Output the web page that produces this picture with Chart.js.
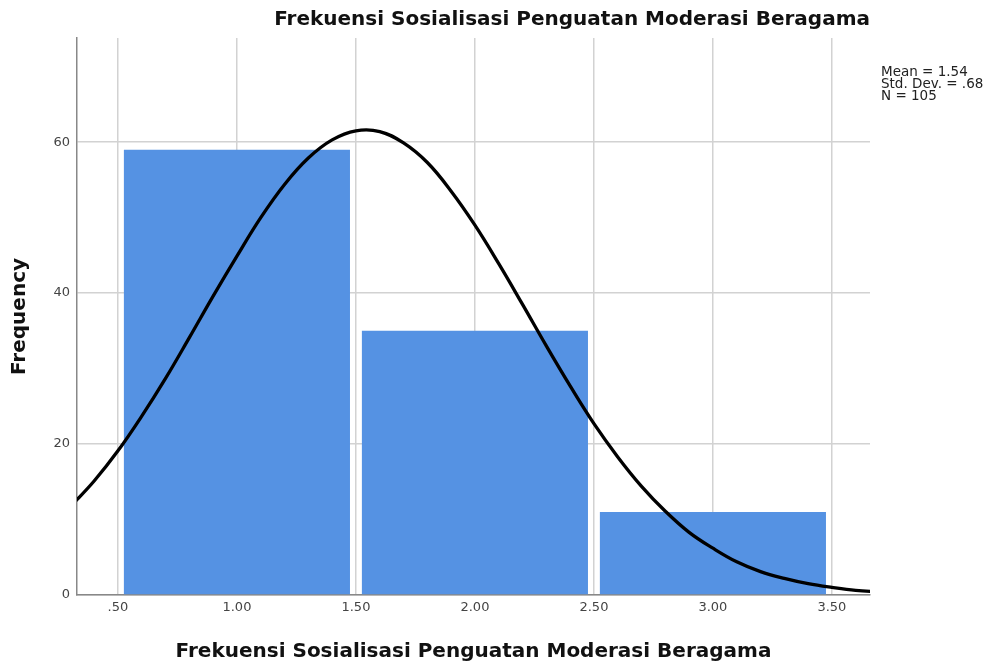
<!DOCTYPE html>
<html>
<head>
<meta charset="utf-8">
<script src="https://cdn.jsdelivr.net/npm/chart.js@4.4.1/dist/chart.umd.min.js"></script>
<style>
  html, body { margin: 0; padding: 0; background: #fff; }
  #wrap { width: 995px; height: 670px; }
</style>
</head>
<body>
<div id="wrap"><canvas id="histChart" width="995" height="670"></canvas></div>
<script>
// histogram bins (bin midpoints) and frequencies
const binMids = [1, 2, 3];
const frequencies = [59, 35, 11];

// normal curve
const curveX = [0.3, 0.4, 0.5, 0.6, 0.7, 0.8, 0.9, 1.0, 1.1, 1.2, 1.3, 1.4, 1.5, 1.6, 1.7, 1.8, 1.9, 2.0,
    2.1, 2.2, 2.3, 2.4, 2.5, 2.6, 2.7, 2.8, 2.9, 3.0, 3.1, 3.2, 3.3, 3.4, 3.5, 3.6, 3.7];
const curveY = [11.7, 15.1, 19.1, 23.7, 28.7, 34.1, 39.6, 44.9, 50.0, 54.4, 57.9, 60.3, 61.5, 61.4, 59.9, 57.3, 53.5, 49.0,
    43.9, 38.5, 33.0, 27.7, 22.7, 18.3, 14.4, 11.1, 8.3, 6.2, 4.4, 3.1, 2.2, 1.5, 1.0, 0.6, 0.4];

const xTicks = [0.5, 1.0, 1.5, 2.0, 2.5, 3.0, 3.5];
const yTicks = [0, 20, 40, 60];
const statsLines = ["Mean = 1.54", "Std. Dev. = .68", "N = 105"];

const titleText = "Frekuensi Sosialisasi Penguatan Moderasi Beragama";
const fontFamily = "'DejaVu Sans', sans-serif";

const statsPlugin = {
    id: "statsBox",
    afterDraw(chart) {
        const ctx = chart.ctx;
        ctx.save();
        ctx.font = "13.5px " + fontFamily;
        ctx.fillStyle = "#222";
        ctx.textBaseline = "middle";
        ctx.textAlign = "left";
        statsLines.forEach((line, i) => {
            ctx.fillText(line, chart.chartArea.right + 11, 72 + i * 12);
        });
        ctx.restore();
    }
};

new Chart(document.getElementById("histChart"), {
    data: {
        datasets: [
            {
                type: "line",
                data: curveX.map((x, i) => ({ x, y: curveY[i] })),
                borderColor: "#000",
                borderWidth: 3.3,
                pointRadius: 0,
                tension: 0.4,
                fill: false,
                order: 0
            },
            {
                type: "bar",
                data: binMids.map((x, i) => ({ x, y: frequencies[i] })),
                backgroundColor: "#5592e3",
                borderWidth: 0,
                // ruler uses the 0.5 tick spacing, bins are 1.0 wide
                barPercentage: 1.9,
                categoryPercentage: 1.0,
                order: 1
            }
        ]
    },
    options: {
        responsive: false,
        animation: false,
        layout: { padding: { left: 0, right: 125, top: 0, bottom: 0 } },
        plugins: {
            legend: { display: false },
            tooltip: { enabled: false },
            title: {
                display: true,
                text: titleText,
                align: "end",
                color: "#111",
                font: { family: fontFamily, size: 20, weight: "bold" },
                padding: { top: 8, bottom: 6 }
            }
        },
        scales: {
            x: {
                type: "linear",
                offset: false,
                min: 0.328,
                max: 3.66,
                afterBuildTicks: (scale) => { scale.ticks = xTicks.map((v) => ({ value: v })); },
                afterFit: (scale) => { scale.height = 75; },
                ticks: {
                    callback: (v) => v.toFixed(2).replace(/^0/, ""),
                    color: "#444",
                    font: { family: fontFamily, size: 13 },
                    padding: 5,
                    maxRotation: 0
                },
                grid: { color: "#d2d2d2", lineWidth: 1.5, drawTicks: false, offset: false },
                border: { color: "#888", width: 1.5 },
                title: {
                    display: true,
                    text: titleText,
                    color: "#111",
                    font: { family: fontFamily, size: 20, weight: "bold" },
                    padding: { top: 4, bottom: 6 }
                }
            },
            y: {
                min: 0,
                max: 73.8,
                afterBuildTicks: (scale) => { scale.ticks = yTicks.map((v) => ({ value: v })); },
                afterFit: (scale) => { scale.width = 77; },
                ticks: {
                    color: "#444",
                    font: { family: fontFamily, size: 13 },
                    padding: 7
                },
                grid: { color: "#d2d2d2", lineWidth: 1.5, drawTicks: false },
                border: { color: "#888", width: 1.5 },
                title: {
                    display: true,
                    text: "Frequency",
                    color: "#111",
                    font: { family: fontFamily, size: 20, weight: "bold" },
                    padding: { top: 8, bottom: 4 }
                }
            }
        }
    },
    plugins: [statsPlugin]
});
</script>
</body>
</html>
